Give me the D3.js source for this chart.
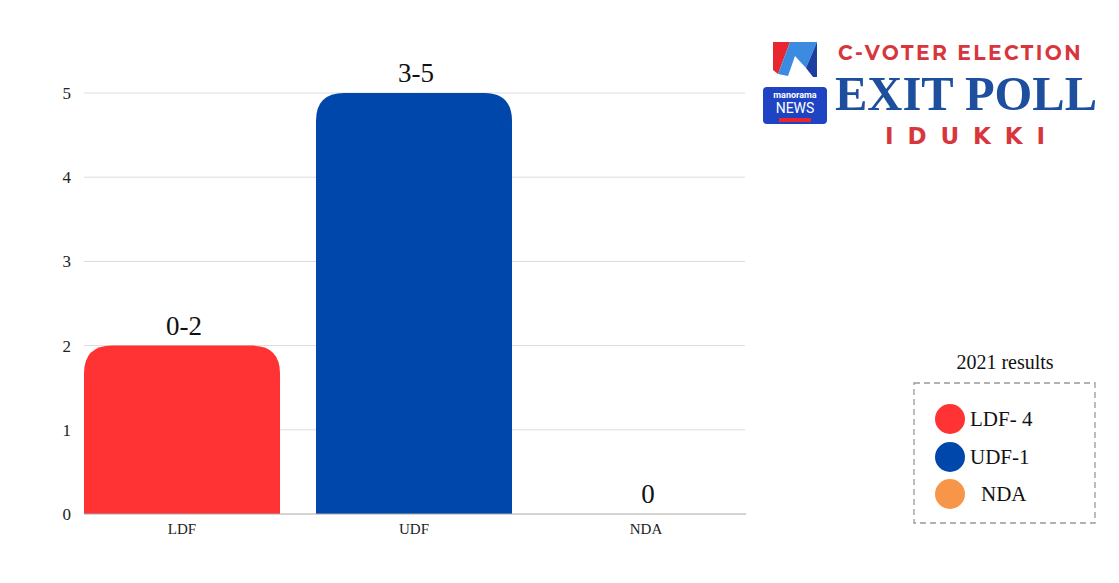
<!DOCTYPE html>
<html><head><meta charset="utf-8">
<script src="https://cdn.jsdelivr.net/npm/d3@7"></script>
<style>html,body{margin:0;padding:0;background:#fff;}svg{display:block;}</style>
</head><body>
<svg id="c" width="1119" height="583"></svg>
<script>
const categories = ["LDF", "UDF", "NDA"];
const values = [2, 5, 0];
const valueLabels = ["0-2", "3-5", "0"];
const barColors = ["#FF3333", "#0047AB", "#F79548"];
const yTicks = [0, 1, 2, 3, 4, 5];
const legendTitle = "2021 results";
const legendLabels = ["LDF- 4", "UDF-1", "NDA"];
const legendColors = ["#FF3333", "#0047AB", "#F79548"];

const svg = d3.select("#c");
const serif = "'Liberation Serif','DejaVu Serif',serif";
const x = d3.scaleBand().domain(categories).range([84, 744]).paddingInner(0.155).paddingOuter(0);
const y = d3.scaleLinear().domain([0, 5]).range([514, 93]);

// gridlines
svg.append("g").selectAll("line").data(yTicks.filter(d => d > 0)).join("line")
  .attr("x1", 84).attr("x2", 745).attr("y1", d => y(d)).attr("y2", d => y(d))
  .attr("stroke", "#dcdcdc").attr("stroke-width", 1);

// y axis labels
const yAxis = d3.axisLeft(y).tickValues(yTicks).tickSize(0).tickPadding(13).tickFormat(d3.format("d"));
const ya = svg.append("g").attr("transform", "translate(84,0)").call(yAxis);
ya.select(".domain").remove();
ya.selectAll("text").attr("font-family", serif).attr("font-size", 17).attr("fill", "#222");

// bars with rounded tops
function barPath(x0, w, yTop, yBase, r) {
  const h = yBase - yTop;
  if (h <= 0) return "";
  r = Math.min(r, h, w / 2);
  return `M${x0},${yBase}V${yTop + r}Q${x0},${yTop} ${x0 + r},${yTop}H${x0 + w - r}Q${x0 + w},${yTop} ${x0 + w},${yTop + r}V${yBase}Z`;
}
svg.append("g").selectAll("path").data(categories).join("path")
  .attr("d", (d, i) => barPath(x(d), x.bandwidth(), y(values[i]), y(0), 28))
  .attr("fill", (d, i) => barColors[i]);

// baseline
svg.append("line").attr("x1", 84).attr("x2", 746).attr("y1", y(0)).attr("y2", y(0))
  .attr("stroke", "#a9a9a9").attr("stroke-width", 1.2);

// x axis labels
const xAxis = d3.axisBottom(x).tickSize(0).tickPadding(9);
const xa = svg.append("g").attr("transform", `translate(0,${y(0)})`).call(xAxis);
xa.select(".domain").remove();
xa.selectAll("text").attr("font-family", serif).attr("font-size", 15).attr("fill", "#222");

// value labels
svg.append("g").selectAll("text").data(categories).join("text")
  .attr("x", d => x(d) + x.bandwidth() / 2 + 2)
  .attr("y", (d, i) => y(values[i]) - 11)
  .attr("text-anchor", "middle")
  .attr("font-family", serif).attr("font-size", 27).attr("fill", "#111")
  .text((d, i) => valueLabels[i]);

// Logo
const logo = svg.append("g");
logo.append("polygon").attr("points", "773,42 790,42 778,74 773,70").attr("fill", "#e8262f");
logo.append("polygon").attr("points", "790,42 817,42 806,68 795,56 788,76 778,74").attr("fill", "#3d8be0");
logo.append("polygon").attr("points", "806,68 817,42 817,77 813,77").attr("fill", "#1b3fa0");
logo.append("rect").attr("x", 763).attr("y", 87).attr("width", 64).attr("height", 37).attr("rx", 4).attr("fill", "#1e44c4");
logo.append("text").attr("x", 795).attr("y", 98).attr("text-anchor", "middle")
  .attr("font-family", "Roboto, sans-serif").attr("font-weight", "bold").attr("font-size", 9).attr("fill", "#fff").text("manorama");
logo.append("text").attr("x", 795).attr("y", 113).attr("text-anchor", "middle")
  .attr("font-family", "Roboto, sans-serif").attr("font-size", 14).attr("fill", "#fff").text("NEWS");
logo.append("rect").attr("x", 779).attr("y", 118).attr("width", 32).attr("height", 4).attr("fill", "#e8262f");

logo.append("text").attr("x", 838).attr("y", 60)
  .attr("font-family", "Montserrat, 'DejaVu Sans', sans-serif").attr("font-weight", "bold")
  .attr("font-size", 21).attr("letter-spacing", 2.5).attr("fill", "#d8363d")
  .attr("textLength", 245).attr("lengthAdjust", "spacingAndGlyphs").text("C-VOTER ELECTION");
logo.append("text").attr("x", 835).attr("y", 110)
  .attr("font-family", serif).attr("font-weight", "bold").attr("font-size", 48).attr("fill", "#1d4f9e")
  .attr("textLength", 262).attr("lengthAdjust", "spacingAndGlyphs").text("EXIT POLL");
logo.append("text").attr("x", 885).attr("y", 144)
  .attr("font-family", "'DejaVu Sans', sans-serif").attr("font-weight", "bold")
  .attr("font-size", 23).attr("fill", "#d8363d")
  .attr("textLength", 160).attr("lengthAdjust", "spacing").text("IDUKKI");

// Legend
const lg = svg.append("g");
lg.append("text").attr("x", 1005).attr("y", 369).attr("text-anchor", "middle")
  .attr("font-family", serif).attr("font-size", 20).attr("fill", "#111").text(legendTitle);
lg.append("rect").attr("x", 914).attr("y", 383).attr("width", 181).attr("height", 140)
  .attr("fill", "none").attr("stroke", "#999").attr("stroke-width", 1.3).attr("stroke-dasharray", "6,4");
const ly = [419, 457, 494];
lg.selectAll("circle").data(legendLabels).join("circle")
  .attr("cx", 950).attr("cy", (d, i) => ly[i]).attr("r", 15).attr("fill", (d, i) => legendColors[i]);
lg.selectAll("text.l").data(legendLabels).join("text").attr("class", "l")
  .attr("x", (d, i) => i === 2 ? 981 : 970).attr("y", (d, i) => ly[i] + 7)
  .attr("font-family", serif).attr("font-size", 21).attr("fill", "#111").text(d => d);
</script>
</body></html>
